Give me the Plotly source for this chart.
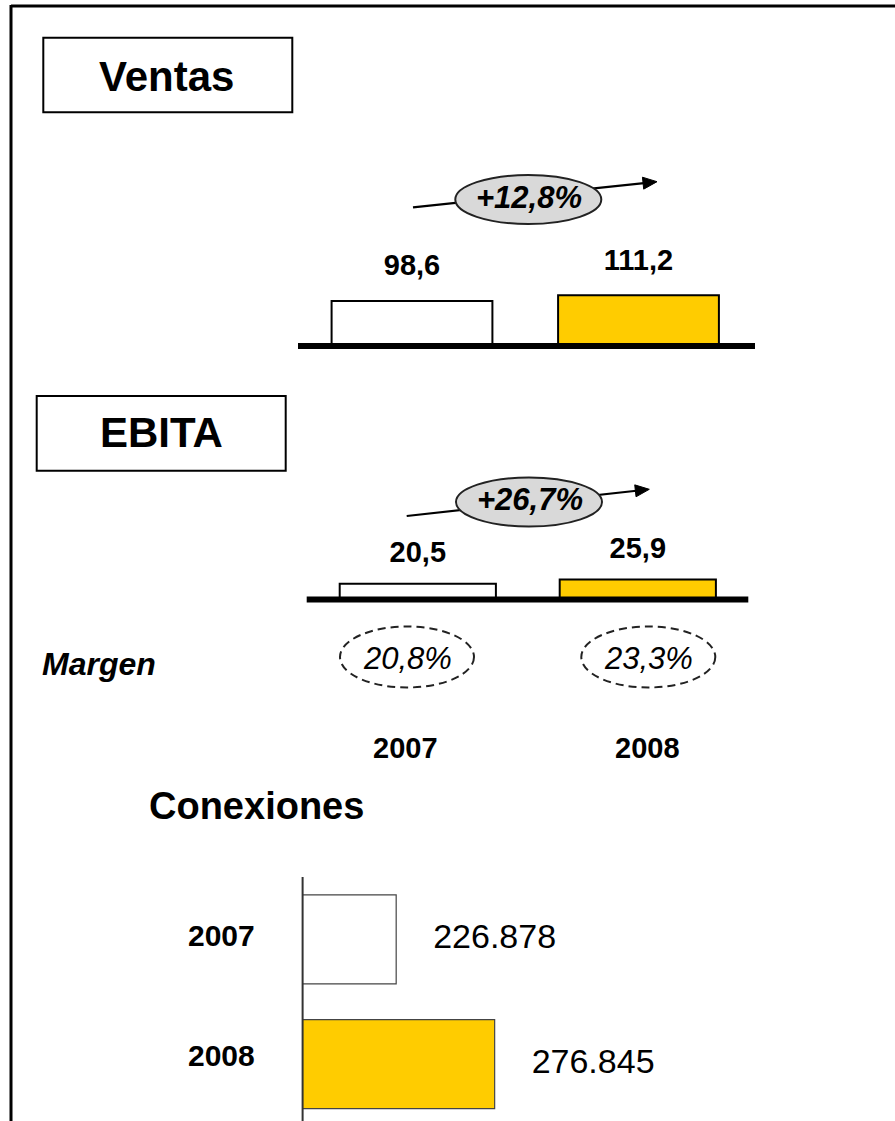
import math
import plotly.graph_objects as go

# --- datos ---
years = ["2007", "2008"]
ventas = [98.6, 111.2]
ebita = [20.5, 25.9]
margen = ["20,8%", "23,3%"]
crecimiento = ["+12,8%", "+26,7%"]
conexiones = [226878, 276845]
bar_colors = ["white", "#FFCC00"]

W, H = 895, 1121
FONT = "Liberation Sans, Arial, sans-serif"


def fx(x):
    return x / W


def fy(y):
    return 1 - y / H


def es(v):
    return f"{v:.1f}".replace(".", ",")


shapes = []
annotations = []


def add_line(x0, y0, x1, y1, width, color="black", dash=None):
    shapes.append(dict(type="line", xref="paper", yref="paper",
                       x0=fx(x0), y0=fy(y0), x1=fx(x1), y1=fy(y1),
                       line=dict(color=color, width=width, dash=dash)))


def add_rect(x0, y0, x1, y1, width=2):
    shapes.append(dict(type="rect", xref="paper", yref="paper",
                       x0=fx(x0), y0=fy(y1), x1=fx(x1), y1=fy(y0),
                       line=dict(color="black", width=width), fillcolor="rgba(0,0,0,0)"))


def add_ellipse(cx, cy, rx, ry, fill, width, color="#222", dash=None):
    shapes.append(dict(type="circle", xref="paper", yref="paper",
                       x0=fx(cx - rx), x1=fx(cx + rx), y0=fy(cy + ry), y1=fy(cy - ry),
                       fillcolor=fill, line=dict(color=color, width=width, dash=dash)))


def add_text(x, y, text, size, xanchor="center"):
    annotations.append(dict(xref="paper", yref="paper", x=fx(x), y=fy(y), text=text,
                            showarrow=False, xanchor=xanchor, yanchor="middle",
                            font=dict(size=size, color="black", family=FONT)))


def add_arrow(tail, tip, head_len=14, head_w=6):
    dx, dy = tip[0] - tail[0], tip[1] - tail[1]
    n = math.hypot(dx, dy)
    ux, uy = dx / n, dy / n
    bx, by = tip[0] - head_len * ux, tip[1] - head_len * uy
    add_line(tail[0], tail[1], bx + ux, by + uy, 2.2)
    return [(tip[0], tip[1]), (bx - uy * head_w, by + ux * head_w), (bx + uy * head_w, by - ux * head_w)]


def add_triangle(pts):
    path = "M " + " L ".join(f"{fx(x)} {fy(y)}" for x, y in pts) + " Z"
    shapes.append(dict(type="path", xref="paper", yref="paper", path=path,
                       fillcolor="black", line=dict(color="black", width=1)))


fig = go.Figure()

# --- Ventas (barras verticales) ---
v_c0, v_unit, v_base, v_scale = 412, 226.5, 346, 0.4564
v_xr, v_yr = [-0.6, 1.6], [-12, 200]
fig.add_trace(go.Bar(x=years, y=ventas, marker=dict(color=bar_colors, line=dict(color="black", width=2)),
                     width=0.71, xaxis="x", yaxis="y", hoverinfo="skip"))
fig.add_trace(go.Scatter(x=years, y=[v + 33 / v_scale for v in ventas], mode="text",
                         text=[f"<b>{es(v)}</b>" for v in ventas], textposition="middle center",
                         textfont=dict(size=29, family=FONT, color="black"),
                         cliponaxis=False, xaxis="x", yaxis="y", hoverinfo="skip"))

# --- EBITA ---
e_c0, e_unit, e_base, e_scale = 417.8, 220, 599.5, 0.77
e_xr, e_yr = [-0.6, 1.6], [-8, 75]
fig.add_trace(go.Bar(x=years, y=ebita, marker=dict(color=bar_colors, line=dict(color="black", width=2)),
                     width=0.71, xaxis="x2", yaxis="y2", hoverinfo="skip"))
fig.add_trace(go.Scatter(x=years, y=[v + 29 / e_scale for v in ebita], mode="text",
                         text=[f"<b>{es(v)}</b>" for v in ebita], textposition="middle center",
                         textfont=dict(size=29, family=FONT, color="black"),
                         cliponaxis=False, xaxis="x2", yaxis="y2", hoverinfo="skip"))

# --- Conexiones (barras horizontales) ---
c_axis_x, c_top, c_bottom = 302.6, 877, 1121
c_v0, c_scale = 179400, 0.001971
c_c0, c_unit = 939.3, 124.8
c_xr = [c_v0, 330000]
c_yr = [(c_bottom - c_c0) / c_unit, -0.5]
fig.add_trace(go.Bar(y=years, x=conexiones, orientation="h",
                     marker=dict(color=bar_colors, line=dict(color="#444", width=1.2)),
                     width=0.715, xaxis="x3", yaxis="y3", hoverinfo="skip"))
fig.add_trace(go.Scatter(x=[v + 37 / c_scale for v in conexiones], y=years, mode="text",
                         text=[f"{v:,}".replace(",", ".") for v in conexiones], textposition="middle right",
                         textfont=dict(size=34, family=FONT, color="black"),
                         cliponaxis=False, xaxis="x3", yaxis="y3", hoverinfo="skip"))

# etiquetas de año de Conexiones (algo por encima del centro de cada barra)
conex_label_y = [935, 1055]
for yr, cy in zip(years, conex_label_y):
    add_text(221, cy, f"<b>{yr}</b>", 30)

# --- marco y cajas de titulo ---
add_line(11, 6, W + 5, 6, 3)
add_line(11, 5, 11, H + 5, 3)
add_rect(43.3, 37.7, 292.3, 112.3)
add_text(166, 76, "<b>Ventas</b>", 42)
add_rect(36.7, 396, 285.7, 470.7)
add_text(161, 432, "<b>EBITA</b>", 42)

# lineas base
add_line(298, v_base, 755, v_base, 6)
add_line(306.7, e_base, 748.3, e_base, 6)
add_line(c_axis_x, c_top, c_axis_x, c_bottom + 5, 2, color="#333")

# --- crecimiento ---
growth_geo = [((528.3, 199.5), (413, 207.3), (657, 181.7)),
              ((529, 502), (406.7, 516), (649.3, 489.3))]
for txt, (center, tail, tip) in zip(crecimiento, growth_geo):
    head = add_arrow(tail, tip)
    add_ellipse(center[0], center[1], 73, 24.5, "#D9D9D9", 2)
    add_triangle(head)
    add_text(center[0] + 1, center[1] - 2, f"<b><i>{txt}</i></b>", 31)

# --- margen ---
add_text(40, 664, "<b><i>Margen</i></b>", 32, xanchor="left")
margin_x = [407, 648.3]
for m, cx in zip(margen, margin_x):
    add_ellipse(cx, 657, 67, 30.5, "rgba(0,0,0,0)", 2, color="#222", dash="8px,5px")
    add_text(cx, 658, f"<i>{m}</i>", 31)

# años
year_x = [405, 647]
for yr, cx in zip(years, year_x):
    add_text(cx, 748, f"<b>{yr}</b>", 29)

add_text(147, 806, "<b>Conexiones</b>", 38, xanchor="left")

hidden = dict(showgrid=False, zeroline=False, showline=False, showticklabels=False,
              ticks="", fixedrange=True)
fig.update_layout(
    width=W, height=H, margin=dict(l=0, r=0, t=0, b=0),
    paper_bgcolor="white", plot_bgcolor="rgba(0,0,0,0)", showlegend=False,
    xaxis=dict(domain=[fx(v_c0 + v_xr[0] * v_unit), fx(v_c0 + v_xr[1] * v_unit)], range=v_xr,
               type="category", **hidden),
    yaxis=dict(domain=[fy(v_base - v_yr[0] * v_scale), fy(v_base - v_yr[1] * v_scale)], range=v_yr, **hidden),
    xaxis2=dict(domain=[fx(e_c0 + e_xr[0] * e_unit), fx(e_c0 + e_xr[1] * e_unit)], range=e_xr,
                type="category", anchor="y2", **hidden),
    yaxis2=dict(domain=[fy(e_base - e_yr[0] * e_scale), fy(e_base - e_yr[1] * e_scale)], range=e_yr,
                anchor="x2", **hidden),
    xaxis3=dict(domain=[fx(c_axis_x), fx(c_axis_x + (c_xr[1] - c_xr[0]) * c_scale)], range=c_xr,
                anchor="y3", **hidden),
    yaxis3=dict(domain=[fy(c_bottom), fy(c_top)], range=c_yr, type="category", anchor="x3", **hidden),
    shapes=shapes, annotations=annotations,
)

fig.write_html("out.html", config={"displayModeBar": False},
               post_script="document.body.style.margin='0';")
